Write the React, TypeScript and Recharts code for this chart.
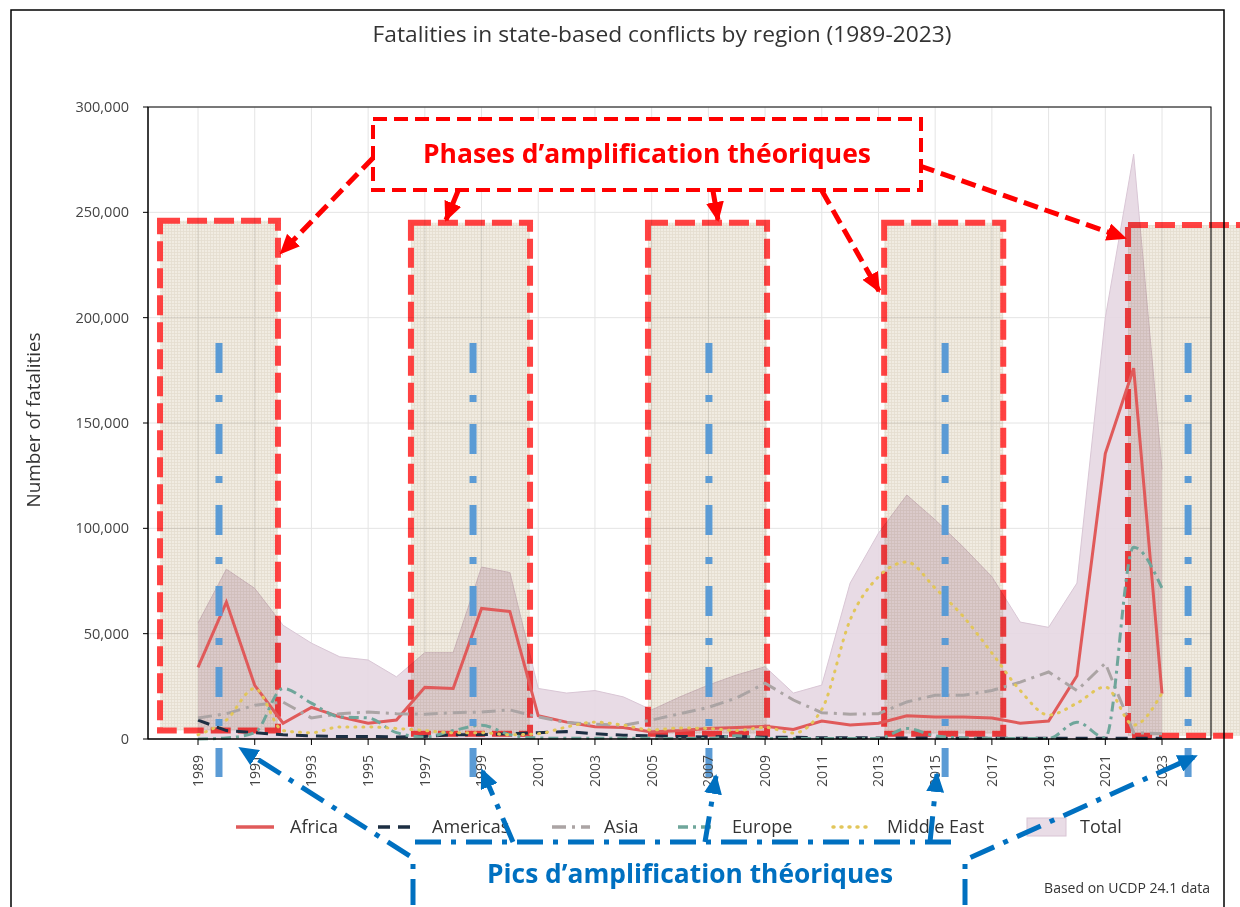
import React from 'react';
import {
  ComposedChart,
  Line,
  Area,
  XAxis,
  YAxis,
  CartesianGrid,
  ReferenceArea,
  ReferenceLine,
} from 'recharts';

const FONT = '"Open Sans", "Noto Sans", sans-serif';

const years = [
  1989, 1990, 1991, 1992, 1993, 1994, 1995, 1996, 1997, 1998, 1999, 2000, 2001, 2002, 2003, 2004, 2005, 2006,
  2007, 2008, 2009, 2010, 2011, 2012, 2013, 2014, 2015, 2016, 2017, 2018, 2019, 2020, 2021, 2022, 2023,
];
const africa = [
  34000, 65000, 25500, 7500, 15000, 10500, 7500, 9000, 24500, 24000, 62000, 60500, 11000, 8000, 5800, 5500, 3300,
  4000, 5000, 5500, 6000, 4500, 8500, 6600, 7500, 11000, 10500, 10500, 10000, 7500, 8500, 30000, 135500, 176000,
  21500,
];
const americas = [
  9000, 4000, 3000, 2000, 1500, 1200, 1200, 1000, 1200, 2000, 2000, 2500, 3000, 3500, 2500, 1800, 1500, 1200, 1000,
  1200, 800, 800, 600, 600, 500, 500, 400, 400, 300, 300, 300, 300, 300, 300, 300,
];
const asia = [
  10000, 12000, 16000, 17500, 10000, 12000, 12800, 12000, 11800, 12500, 12800, 13800, 10500, 7800, 7000, 6500, 9000,
  12000, 15000, 19500, 26500, 18500, 12500, 11800, 12000, 17600, 20800, 20800, 23000, 27000, 31800, 23000, 36000,
  3000, 2500,
];
const europe = [
  0, 500, 3000, 24000, 17000, 10500, 10000, 3000, 1000, 4000, 6500, 2000, 500, 300, 300, 300, 300, 200, 200, 1500,
  300, 200, 200, 200, 200, 5000, 1500, 500, 300, 200, 200, 8000, 500, 91000, 71500,
];
const middleEast = [
  2000, 9000, 24000, 4000, 3000, 5700, 5700, 5000, 4000, 3000, 3000, 2000, 2500, 5700, 8000, 6600, 4300, 5200, 5000,
  4000, 5500, 2800, 14000, 56500, 77000, 84000, 71600, 58000, 40800, 23000, 11400, 17000, 24700, 6600, 21800,
];
const total = [
  55000, 80600, 71500, 54000, 45500, 39000, 37500, 29500, 41000, 41000, 81600, 79000, 24000, 21800, 23000, 20000,
  13800, 20000, 25600, 30400, 34300, 21800, 25600, 74000, 97700, 115800, 104000, 91000, 77000, 55500, 53000, 74000,
  200000, 277600, 128000,
];

const tickYears = [1989, 1991, 1993, 1995, 1997, 1999, 2001, 2003, 2005, 2007, 2009, 2011, 2013, 2015, 2017, 2019, 2021, 2023];
const yTicks = [0, 50000, 100000, 150000, 200000, 250000, 300000];

// annotation: theoretical amplification phases and peaks (in years / fatalities)
const phaseStart = [1987.66, 1996.51, 2004.87, 2013.2, 2021.8];
const phaseEnd = [1991.82, 2000.71, 2009.07, 2017.4, 2027.5];
const phaseTop = [246000, 245000, 245000, 245000, 244000];
const phaseBottom = [4000, 2500, 2500, 2500, 1500];
const peakYears = [1989.74, 1998.7, 2007.02, 2015.35, 2023.92];

const data = years.map((year, i) => ({
  year,
  africa: africa[i],
  americas: americas[i],
  asia: asia[i],
  europe: europe[i],
  middleEast: middleEast[i],
  total: total[i],
}));

const series = [
  { key: 'africa', name: 'Africa', color: '#e05a5a', dash: undefined, curve: 'linear' },
  { key: 'americas', name: 'Americas', color: '#1d2f43', dash: '12 8', curve: 'linear' },
  { key: 'asia', name: 'Asia', color: '#aba4a4', dash: '14 6 3 6', curve: 'linear' },
  { key: 'europe', name: 'Europe', color: '#6fa69b', dash: '10 5 3 5', curve: 'monotone' },
  { key: 'middleEast', name: 'Middle East', color: '#e2c65a', dash: '1 7', curve: 'monotone' },
];

const YearTick = (props: any) => {
  const { x, y, payload } = props;
  return (
    <text
      transform={`translate(${x},${y + 8}) rotate(-90)`}
      textAnchor="end"
      dy="0.35em"
      fontSize={14}
      fill="#444"
      fontFamily={FONT}
    >
      {payload.value}
    </text>
  );
};

const legendItems = [
  { name: 'Africa', x: 236, textX: 290 },
  { name: 'Americas', x: 378, textX: 432 },
  { name: 'Asia', x: 552, textX: 604 },
  { name: 'Europe', x: 678, textX: 732 },
  { name: 'Middle East', x: 833, textX: 887 },
  { name: 'Total', x: 1027, textX: 1080 },
];

const Legend = () => (
  <g fontFamily={FONT} fontSize={18} fill="#333">
    {legendItems.map((it, i) => {
      const s = series[i];
      return (
        <g key={it.name}>
          {s ? (
            <line
              x1={it.x}
              x2={it.x + 38}
              y1={827}
              y2={827}
              stroke={s.color}
              strokeWidth={3.5}
              strokeDasharray={s.dash}
              strokeLinecap={s.key === 'middleEast' ? 'round' : 'butt'}
            />
          ) : (
            <rect x={it.x} y={818} width={39} height={18} fill="#e9dce6" stroke="#d8c4d4" />
          )}
          <text x={it.textX} y={833}>
            {it.name}
          </text>
        </g>
      );
    })}
  </g>
);

const Overlay = () => (
  <svg width={1240} height={907} style={{ position: 'absolute', left: 0, top: 0, pointerEvents: 'none' }}>
    <defs>
      <marker id="redHead" markerUnits="userSpaceOnUse" markerWidth="20" markerHeight="18" refX="18" refY="9" orient="auto">
        <path d="M0,0 L20,9 L0,18 Z" fill="#ff0000" />
      </marker>
      <marker id="blueHead" markerUnits="userSpaceOnUse" markerWidth="20" markerHeight="18" refX="18" refY="9" orient="auto">
        <path d="M0,0 L20,9 L0,18 Z" fill="#0070c0" />
      </marker>
    </defs>
    {/* frames */}
    <rect x={11} y={10} width={1213} height={920} fill="none" stroke="#000" strokeWidth={1.5} />
    <rect x={148} y={107} width={1063} height={632} fill="none" stroke="#000" strokeWidth={1} />

    <text x={662} y={42} textAnchor="middle" fontSize={21.5} fill="#333" fontFamily={FONT} textLength={579} lengthAdjust="spacingAndGlyphs">
      Fatalities in state-based conflicts by region (1989-2023)
    </text>
    <text transform="translate(40,420) rotate(-90)" textAnchor="middle" fontSize={18.5} fill="#333" fontFamily={FONT} textLength={175} lengthAdjust="spacingAndGlyphs">
      Number of fatalities
    </text>
    <text x={1210} y={893} textAnchor="end" fontSize={14} fill="#333" fontFamily={FONT}>
      Based on UCDP 24.1 data
    </text>

    <Legend />

    {/* phases annotation */}
    <rect x={373} y={119} width={548} height={71} fill="#fff" stroke="#ff0000" strokeWidth={4} strokeDasharray="14 7" />
    <text x={647} y={163} textAnchor="middle" fontSize={27} fontWeight={700} fill="#ff0000" fontFamily={FONT} textLength={448} lengthAdjust="spacingAndGlyphs">
      Phases d’amplification théoriques
    </text>
    <g stroke="#ff0000" strokeWidth={5} strokeDasharray="15 7" fill="none">
      <line x1={373} y1={158} x2={281} y2={253} markerEnd="url(#redHead)" />
      <line x1={458} y1={191} x2={446} y2={220} markerEnd="url(#redHead)" />
      <line x1={713} y1={191} x2={718} y2={220} markerEnd="url(#redHead)" />
      <line x1={822} y1={191} x2={879} y2={291} markerEnd="url(#redHead)" />
      <line x1={920} y1={166} x2={1125} y2={238} markerEnd="url(#redHead)" />
    </g>

    {/* peaks annotation */}
    <g stroke="#0070c0" strokeWidth={5} strokeDasharray="26 10 5 10" fill="none">
      <polyline points="413,905 413,858 240,748" markerEnd="url(#blueHead)" />
      <line x1={415} y1={842} x2={958} y2={842} />
      <line x1={513} y1={842} x2={482} y2={770} markerEnd="url(#blueHead)" />
      <line x1={705} y1={842} x2={716} y2={776} markerEnd="url(#blueHead)" />
      <line x1={930} y1={842} x2={937} y2={774} markerEnd="url(#blueHead)" />
      <polyline points="965,905 965,860 1196,756" markerEnd="url(#blueHead)" />
    </g>
    <text x={690} y={883} textAnchor="middle" fontSize={27} fontWeight={700} fill="#0070c0" fontFamily={FONT} textLength={406} lengthAdjust="spacingAndGlyphs">
      Pics d’amplification théoriques
    </text>
  </svg>
);

export default function App() {
  return (
    <div style={{ position: 'absolute', left: 0, top: 0, width: 1240, height: 907, background: '#fff', overflow: 'hidden' }}>
      <style>{`.phase-box path { mix-blend-mode: multiply; }`}</style>
      <ComposedChart width={1240} height={907} data={data} margin={{ top: 107, right: 29, bottom: 108, left: 88 }}>
        <defs>
          <pattern id="canvasTex" width="3" height="3" patternUnits="userSpaceOnUse">
            <rect width="3" height="3" fill="#f0ebe0" />
            <path d="M0 0.5H3M0.5 0V3" stroke="#e4ddcf" strokeWidth="0.8" />
            <rect x="1.5" y="1.5" width="1" height="1" fill="#f6f2ea" />
          </pattern>
        </defs>
        <CartesianGrid stroke="#e4e4e4" />
        <XAxis
          type="number"
          dataKey="year"
          domain={[1987.236, 2024.728]}
          ticks={tickYears}
          interval={0}
          height={60}
          tickSize={6}
          tick={<YearTick />}
          axisLine={{ stroke: '#000' }}
          tickLine={{ stroke: '#000' }}
          allowDataOverflow
        />
        <YAxis
          domain={[0, 300000]}
          ticks={yTicks}
          width={60}
          tickSize={5}
          tickMargin={14}
          tickFormatter={(v: number) => v.toLocaleString('en-US')}
          tick={{ fontSize: 14.5, fill: '#444', fontFamily: FONT }}
          axisLine={{ stroke: '#000' }}
          tickLine={{ stroke: '#000' }}
        />
        <Area
          dataKey="total"
          type="linear"
          fill="#e6d7e2"
          fillOpacity={0.9}
          stroke="#d9c6d5"
          strokeWidth={1}
          isAnimationActive={false}
        />
        {series.map((s) => (
          <Line
            key={s.key}
            dataKey={s.key}
            type={s.curve as any}
            stroke={s.color}
            strokeWidth={3}
            strokeDasharray={s.dash}
            strokeLinecap={s.key === 'middleEast' ? 'round' : 'butt'}
            dot={false}
            activeDot={false}
            isAnimationActive={false}
          />
        ))}
        {phaseStart.map((x1, i) => (
          <ReferenceArea
            key={'p' + i}
            className="phase-box"
            x1={x1}
            x2={phaseEnd[i]}
            y1={phaseBottom[i]}
            y2={phaseTop[i]}
            fill="url(#canvasTex)"
            fillOpacity={1}
            stroke="#ff2e2e"
            strokeOpacity={0.9}
            strokeWidth={6}
            strokeDasharray="20 7"
            ifOverflow="visible"
          />
        ))}
        {peakYears.map((x, i) => (
          <ReferenceLine
            key={'k' + i}
            segment={[
              { x, y: 188000 },
              { x, y: -18000 },
            ]}
            stroke="#5b9bd5"
            strokeWidth={7}
            strokeDasharray="30 22 7 22"
            ifOverflow="visible"
          />
        ))}
      </ComposedChart>
      <Overlay />
    </div>
  );
}
